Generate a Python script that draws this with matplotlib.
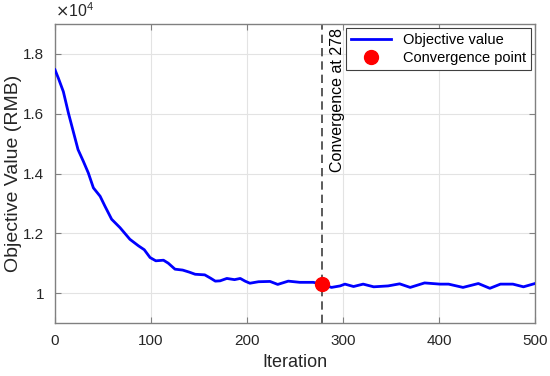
import matplotlib
matplotlib.use("Agg")
import matplotlib.pyplot as plt
from matplotlib.ticker import FuncFormatter

plt.rcParams['font.family'] = ['Liberation Sans', 'DejaVu Sans']

# values (objective in RMB)
iters = [0, 3.5, 8.7, 14, 19, 24, 29.5, 34.7, 40, 47, 52, 59, 67.7, 78, 87, 93,
         99, 105, 113, 118, 125, 133, 140, 146, 156, 162, 167, 172, 179, 187,
         193, 198, 203, 212, 224, 232, 243, 255, 269, 278, 288, 297, 302, 311,
         321, 332, 347, 359, 370, 385, 401, 410, 425, 441, 453, 464, 477, 488, 500]
obj = [1.747, 1.719, 1.674, 1.602, 1.541, 1.48, 1.441, 1.402, 1.352, 1.324,
       1.291, 1.247, 1.219, 1.18, 1.158, 1.145, 1.119, 1.108, 1.11, 1.10, 1.08,
       1.077, 1.07, 1.063, 1.061, 1.05, 1.04, 1.041, 1.049, 1.045, 1.049, 1.04,
       1.033, 1.038, 1.039, 1.029, 1.04, 1.036, 1.036, 1.03, 1.019, 1.024, 1.03,
       1.022, 1.03, 1.021, 1.024, 1.031, 1.019, 1.034, 1.03, 1.03, 1.019, 1.032,
       1.016, 1.03, 1.03, 1.021, 1.032]
obj = [v * 1e4 for v in obj]
conv_iter = 278
conv_val = 1.03e4

fig = plt.figure(figsize=(5.5, 3.76), dpi=100)
ax = fig.add_axes([0.1, 0.141, 0.8727, 0.795])

ax.plot(iters, obj, color='#0000ff', lw=2, label='Objective value', zorder=3)
ax.axvline(conv_iter, color='#404040', ls=(0, (5, 3)), lw=1.2, zorder=2)
ax.plot([conv_iter], [conv_val], 'o', color='#ff0000', ms=10, ls='none',
        label='Convergence point', zorder=4)
ax.text(294, 1.888e4, 'Convergence at 278', rotation=90, ha='center', va='top',
        fontsize=11.5)

ax.set_xlim(0, 500)
ax.set_ylim(0.9e4, 1.9e4)
ax.set_xticks([0, 100, 200, 300, 400, 500])
ax.set_yticks([1.0e4, 1.2e4, 1.4e4, 1.6e4, 1.8e4])
ax.yaxis.set_major_formatter(FuncFormatter(lambda v, p: '%g' % (v / 1e4)))
ax.text(0, 1.012, r'$\times\mathregular{10^4}$', transform=ax.transAxes,
        ha='left', va='bottom', fontsize=11.5, color='#262626')

ax.grid(True, color='#e3e3e3', lw=0.8)
ax.set_axisbelow(True)
ax.tick_params(direction='in', top=True, right=True, labelsize=11,
               colors='#808080', labelcolor='#262626', length=4, pad=8)
for s in ax.spines.values():
    s.set_color('#808080')
    s.set_linewidth(1)

ax.set_xlabel('Iteration', fontsize=13, color='#262626')
ax.set_ylabel('Objective Value (RMB)', fontsize=14, color='#262626')
ax.yaxis.set_label_coords(-0.068, 0.5)
ax.xaxis.set_label_coords(0.5, -0.105)

leg = ax.legend(loc='upper right', fontsize=10.5, fancybox=False, framealpha=1,
                edgecolor='#404040', borderaxespad=0.3, handlelength=2.8,
                borderpad=0.3, labelspacing=0.3)
leg.get_frame().set_linewidth(0.8)

fig.savefig('out.png', dpi=100)
